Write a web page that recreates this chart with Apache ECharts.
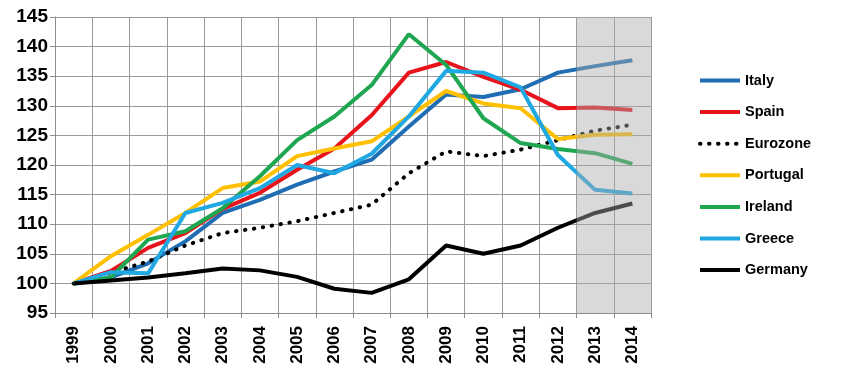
<!DOCTYPE html>
<html><head><meta charset="utf-8">
<script src="https://cdn.jsdelivr.net/npm/echarts@6/dist/echarts.min.js"></script>
<style>html,body{margin:0;padding:0;background:#fff}#c{width:850px;height:373px}</style>
</head><body><div id="c"></div>
<script>
const years = ['1999','2000','2001','2002','2003','2004','2005','2006','2007','2008','2009','2010','2011','2012','2013','2014'];
const italy    = [100, 101.0, 103.4, 107.1, 111.9, 114.1, 116.7, 118.9, 120.9, 126.5, 131.9, 131.5, 132.8, 135.6, 136.7, 137.7];
const spain    = [100, 102.1, 106.0, 108.5, 112.6, 115.3, 119.2, 122.8, 128.4, 135.6, 137.4, 134.9, 132.7, 129.6, 129.7, 129.3];
const eurozone = [100, 101.8, 103.7, 106.4, 108.5, 109.4, 110.5, 111.9, 113.3, 118.6, 122.3, 121.5, 122.6, 124.2, 125.8, 126.8];
const portugal = [100, 104.6, 108.2, 111.9, 116.1, 117.2, 121.5, 122.8, 124.0, 128.2, 132.5, 130.4, 129.6, 124.4, 125.1, 125.2];
const ireland  = [100, 101.0, 107.4, 108.8, 112.7, 118.1, 124.2, 128.2, 133.5, 142.1, 136.9, 127.9, 123.7, 122.7, 122.0, 120.2];
const greece   = [100, 101.9, 101.7, 111.9, 113.6, 116.1, 120.0, 118.6, 121.9, 128.2, 135.9, 135.6, 133.1, 121.7, 115.8, 115.2];
const germany  = [100, 100.5, 101.0, 101.7, 102.5, 102.2, 101.1, 99.1, 98.4, 100.7, 106.4, 105.0, 106.4, 109.4, 111.9, 113.5];
const forecastYears = ['2013','2014'];
const yMin = 95, yMax = 145, yStep = 5;

const font = "'Liberation Sans', Arial, sans-serif";
const shade = years.map(y => forecastYears.includes(y) ? yMax : '-');

function line(name, data, color, extra) {
  return Object.assign({
    name, type: 'line', data, symbol: 'none', z: 3,
    lineStyle: { color, width: 4 }, itemStyle: { color }
  }, extra || {});
}

const chart = echarts.init(document.getElementById('c'), null, { renderer: 'canvas' });
chart.setOption({
  animation: false,
  backgroundColor: '#fff',
  grid: { left: 55, right: 199, top: 17, bottom: 60, containLabel: false },
  legend: {
    orient: 'vertical', left: 693, top: 68,
    itemWidth: 40, itemHeight: 14, itemGap: 16.6,
    itemStyle: { opacity: 0 },
    lineStyle: { width: 4 },
    data: ['Italy','Spain','Eurozone','Portugal','Ireland','Greece','Germany'],
    textStyle: { fontFamily: font, fontWeight: 'bold', fontSize: 14.5, color: '#000' }
  },
  xAxis: {
    type: 'category', data: years, boundaryGap: true,
    axisLine: { lineStyle: { color: '#8c8c8c', width: 1 } },
    axisTick: { show: true, length: 5, lineStyle: { color: '#8c8c8c' } },
    splitLine: { show: true, lineStyle: { color: '#9a9a9a', width: 1 } },
    axisLabel: { rotate: 90, margin: 13, fontFamily: font, fontWeight: 'bold', fontSize: 17, color: '#000', interval: 0 }
  },
  yAxis: {
    type: 'value', min: yMin, max: yMax, interval: yStep,
    axisLine: { show: true, lineStyle: { color: '#8c8c8c', width: 1 } },
    axisTick: { show: true, length: 5, lineStyle: { color: '#8c8c8c' } },
    splitLine: { show: true, lineStyle: { color: '#9a9a9a', width: 1 } },
    axisLabel: { margin: 7, fontFamily: font, fontWeight: 'bold', fontSize: 19, color: '#000' }
  },
  series: [
    line('Italy', italy, '#1f6db3'),
    line('Spain', spain, '#e8141c'),
    line('Eurozone', eurozone, '#000', { lineStyle: { color: '#000', width: 4, type: [0.5, 8.5], cap: 'round' } }),
    line('Portugal', portugal, '#ffc000'),
    line('Ireland', ireland, '#1ea650'),
    line('Greece', greece, '#1fa8e2'),
    line('Germany', germany, '#000'),
    { name: 'forecast', type: 'bar', data: shade, barWidth: '100%', z: 5, silent: true,
      itemStyle: { color: 'rgba(170,170,170,0.45)' } }
  ]
});
</script></body></html>
